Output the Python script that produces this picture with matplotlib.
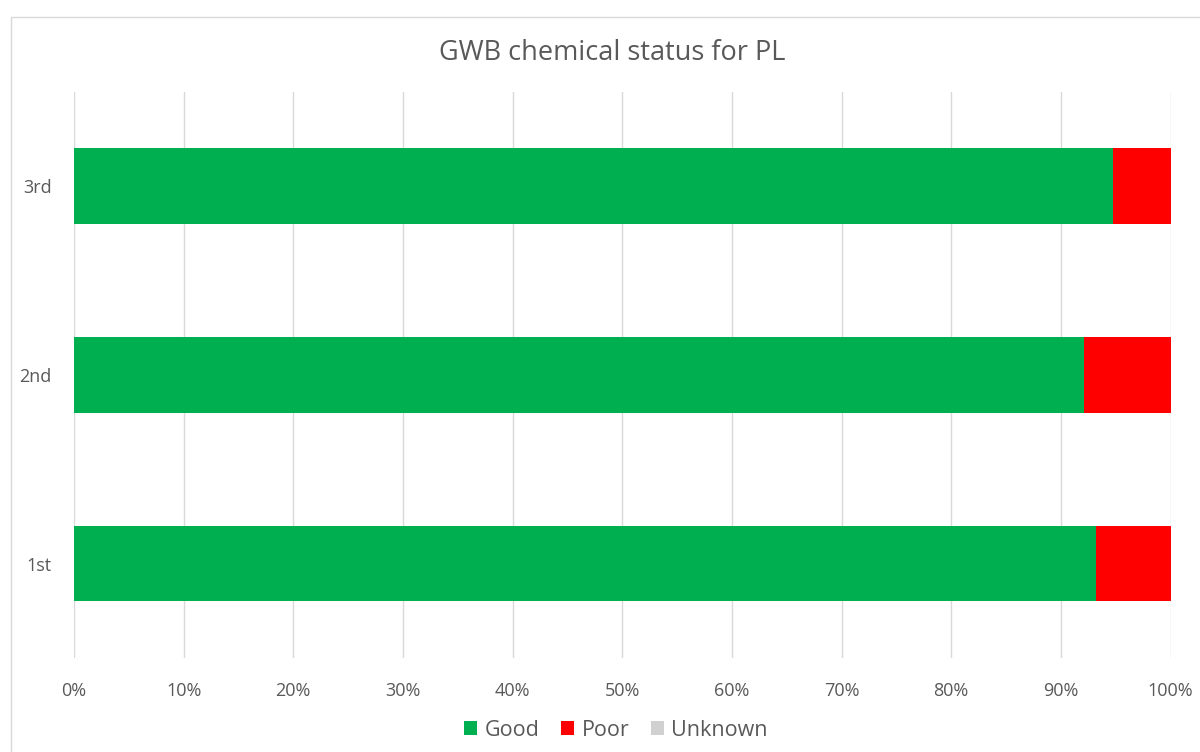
import numpy as np
import matplotlib.pyplot as plt
from matplotlib.patches import Rectangle
from matplotlib.ticker import FuncFormatter

cycles = ["1st", "2nd", "3rd"]
good = [93.2, 92.1, 94.8]
poor = [6.8, 7.9, 5.2]
unknown = [0.0, 0.0, 0.0]

txt = "#595959"
plt.rcParams['font.family'] = ['Open Sans', 'DejaVu Sans']

fig = plt.figure(figsize=(12, 7.52), dpi=100)
W, H = 1200, 752
ax = fig.add_axes([74/W, 1-658/H, (1170.5-74)/W, (658-91.5)/H])

y = np.arange(len(cycles))
h = 0.4
left = np.zeros(len(cycles))
for vals, col, lab in [(good, "#00B050", "Good"), (poor, "#FF0000", "Poor"),
                       (unknown, "#D0D0D0", "Unknown")]:
    ax.barh(y, vals, h, left=left, color=col, label=lab, zorder=3)
    left = left + np.array(vals)

ax.set_xlim(0, 100)
ax.set_ylim(-0.5, 2.5)
ax.set_xticks(np.arange(0, 101, 10))
ax.xaxis.set_major_formatter(FuncFormatter(lambda v, p: "%d%%" % v))
ax.set_yticks(y)
ax.set_yticklabels(cycles)
ax.grid(axis="x", color="#D9D9D9", linewidth=1, zorder=0)
for s in ax.spines.values():
    s.set_visible(False)
ax.tick_params(length=0, colors=txt, labelsize=13)
ax.tick_params(axis="x", pad=17)
ax.tick_params(axis="y", pad=16)

fig.text(612/W, 1-53/H, "GWB chemical status for PL", ha="center", va="center",
         fontsize=19.5, color=txt)

fig.legend(loc="center", bbox_to_anchor=(616/W, 1-730/H), ncol=3, frameon=False,
           fontsize=15.5, labelcolor=txt, handlelength=0.6, handleheight=0.6,
           handletextpad=0.35, columnspacing=1.0)

fig.patches.append(Rectangle((11/W, -0.1), 1.2, 1-17/H+0.1, transform=fig.transFigure,
                             fill=False, edgecolor="#D9D9D9", linewidth=1))

fig.savefig("out.png", dpi=100)
